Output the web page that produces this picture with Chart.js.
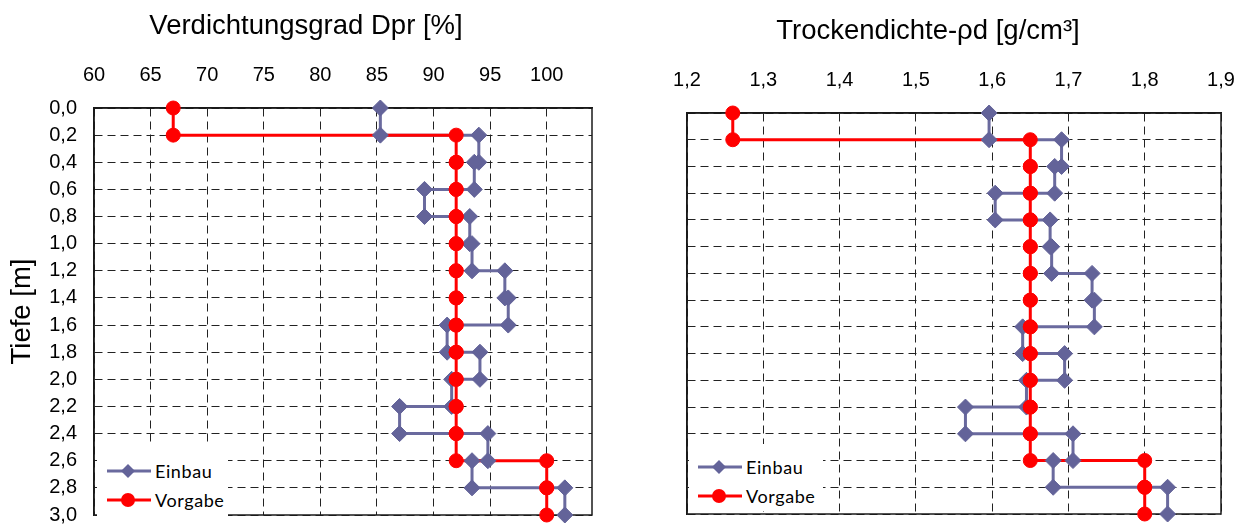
<!DOCTYPE html>
<html>
<head>
<meta charset="utf-8">
<script src="https://cdn.jsdelivr.net/npm/chart.js@4.4.1/dist/chart.umd.min.js"></script>
<style>
  body { margin: 0; background: #fff; width: 1246px; height: 524px; overflow: hidden; position: relative; }
  canvas { position: absolute; top: 0; }
  .title { position: absolute; font-family: "Liberation Sans", Arial, sans-serif; font-size: 27.5px; line-height: 32px;
           color: #000; white-space: nowrap; transform: translateX(-50%); }
  .legend { position: absolute; background: #fff; font-family: Lato, "Open Sans", sans-serif; font-size: 18px;
            letter-spacing: 0.6px; color: #000; box-sizing: border-box; }
  .legend div { display: flex; align-items: center; height: 29px; }
  .legend svg { margin-right: 4px; }
</style>
</head>
<body>
<canvas id="dprChart" width="612" height="524" style="left:0"></canvas>
<canvas id="rhoChart" width="628" height="524" style="left:618px"></canvas>

<div class="title" style="left:306px; top:9px">Verdichtungsgrad Dpr [%]</div>
<div class="title" style="left:928px; top:14px">Trockendichte-ρd [g/cm³]</div>

<div class="legend" style="left:97px; top:446px; width:131px; height:78px; padding-top:10px; padding-left:10px">
  <div><svg width="44" height="16"><line x1="0" y1="8" x2="44" y2="8" stroke="#6a6a9e" stroke-width="3"/><polygon points="21,1 28,8 21,15 14,8" fill="#636399"/></svg>Einbau</div>
  <div><svg width="44" height="16"><line x1="0" y1="8" x2="44" y2="8" stroke="#ff0000" stroke-width="3"/><circle cx="21" cy="8" r="7" fill="#ff0000"/></svg>Vorgabe</div>
</div>
<div class="legend" style="left:689px; top:444px; width:134px; height:67px; padding-top:8px; padding-left:9px">
  <div><svg width="44" height="16"><line x1="0" y1="8" x2="44" y2="8" stroke="#6a6a9e" stroke-width="3"/><polygon points="21,1 28,8 21,15 14,8" fill="#636399"/></svg>Einbau</div>
  <div><svg width="44" height="16"><line x1="0" y1="8" x2="44" y2="8" stroke="#ff0000" stroke-width="3"/><circle cx="21" cy="8" r="7" fill="#ff0000"/></svg>Vorgabe</div>
</div>

<script>
// Schichtgrenzen (Tiefe in m), je Schicht 0,2 m
const depths = [0.0, 0.2, 0.4, 0.6, 0.8, 1.0, 1.2, 1.4, 1.6, 1.8, 2.0, 2.2, 2.4, 2.6, 2.8, 3.0];

// Verdichtungsgrad Dpr [%] je Schicht
const dprEinbau  = [85.3, 94.0, 93.6, 89.2, 93.2, 93.4, 96.3, 96.6, 91.2, 94.1, 91.6, 87.0, 94.8, 93.4, 101.6];
const dprVorgabe = [67, 92, 92, 92, 92, 92, 92, 92, 92, 92, 92, 92, 92, 100, 100];

// Trockendichte [g/cm³] je Schicht
const rhoEinbau  = [1.596, 1.691, 1.682, 1.604, 1.676, 1.678, 1.731, 1.734, 1.640, 1.695, 1.645, 1.565, 1.706, 1.680, 1.830];
const rhoVorgabe = [1.26, 1.65, 1.65, 1.65, 1.65, 1.65, 1.65, 1.65, 1.65, 1.65, 1.65, 1.65, 1.65, 1.80, 1.80];

const blueLine = "#6a6a9e", blueMark = "#636399", red = "#ff0000";

Chart.defaults.font.family = '"Liberation Sans", Arial, sans-serif';
Chart.defaults.color = "#000";

// Treppenlinie: jede Schicht von Oberkante bis Unterkante
function stepPoints(values) {
  const pts = [];
  values.forEach((v, i) => {
    pts.push({ x: v, y: depths[i] });
    pts.push({ x: v, y: depths[i + 1] });
  });
  return pts;
}

const comma = v => v.toFixed(1).replace(".", ",");

// Rahmen um die Zeichenfläche
const frame = {
  id: "frame",
  beforeDatasetsDraw(chart) {
    const { ctx, chartArea: a } = chart;
    ctx.save();
    ctx.strokeStyle = "#1a1a1a";
    ctx.lineWidth = 1.5;
    ctx.strokeRect(a.left, a.top, a.right - a.left, a.bottom - a.top);
    ctx.restore();
  }
};

// Linien zuerst, dann Marker (rot oben)
function datasets(einbau, vorgabe) {
  return [
    { data: stepPoints(vorgabe), showLine: false, pointRadius: 7, pointStyle: "circle",
      backgroundColor: red, pointBorderColor: red, order: 0, clip: false },
    { data: stepPoints(einbau), showLine: false, pointRadius: 8, pointStyle: "rectRot",
      backgroundColor: blueMark, pointBorderColor: blueMark, borderWidth: 1, order: 1, clip: false },
    { data: stepPoints(vorgabe), showLine: true, borderColor: red, borderWidth: 3, pointRadius: 0, order: 2, clip: false },
    { data: stepPoints(einbau), showLine: true, borderColor: blueLine, borderWidth: 3, pointRadius: 0, order: 3, clip: false }
  ];
}

const gridOpts = { color: "#222", lineWidth: 1, drawTicks: false };
const borderOpts = { display: true, color: "#1a1a1a", width: 1.5, dash: [8, 5] };

function makeChart(id, cfg) {
  return new Chart(document.getElementById(id), {
    type: "scatter",
    data: { datasets: datasets(cfg.einbau, cfg.vorgabe) },
    options: {
      responsive: false,
      animation: false,
      layout: { padding: cfg.padding },
      plugins: { legend: { display: false }, tooltip: { enabled: false } },
      scales: {
        x: {
          type: "linear", position: "top", min: cfg.xMin, max: cfg.xMax,
          ticks: { stepSize: cfg.xStep, includeBounds: false, autoSkip: false, padding: 21,
                   font: { size: 20 }, color: "#000", callback: cfg.xLabel },
          grid: gridOpts, border: borderOpts,
          afterFit: s => { s.height = cfg.xHeight; s.paddingLeft = 0; s.paddingRight = 0; }
        },
        y: {
          type: "linear", reverse: true, min: 0, max: 3,
          ticks: { stepSize: 0.2, maxTicksLimit: 20, autoSkip: false, padding: 17, font: { size: 20 },
                   color: "#000", display: cfg.yLabels, callback: comma },
          title: { display: !!cfg.yTitle, text: cfg.yTitle || "", font: { size: 27.5 }, color: "#000",
                   padding: { top: 6, bottom: 0 } },
          grid: gridOpts, border: borderOpts,
          afterFit: s => { s.width = cfg.yWidth; s.paddingTop = 0; s.paddingBottom = 0; }
        }
      }
    },
    plugins: [frame]
  });
}

makeChart("dprChart", {
  einbau: dprEinbau, vorgabe: dprVorgabe,
  xMin: 60, xMax: 104, xStep: 5, xLabel: v => v,
  xHeight: 108, yWidth: 94, yLabels: true, yTitle: "Tiefe [m]",
  padding: { left: 0, right: 20, top: 0, bottom: 8 }
});

makeChart("rhoChart", {
  einbau: rhoEinbau, vorgabe: rhoVorgabe,
  xMin: 1.2, xMax: 1.9, xStep: 0.1, xLabel: comma,
  xHeight: 113, yWidth: 69, yLabels: false,
  padding: { left: 0, right: 25, top: 0, bottom: 10 }
});
</script>
</body>
</html>
